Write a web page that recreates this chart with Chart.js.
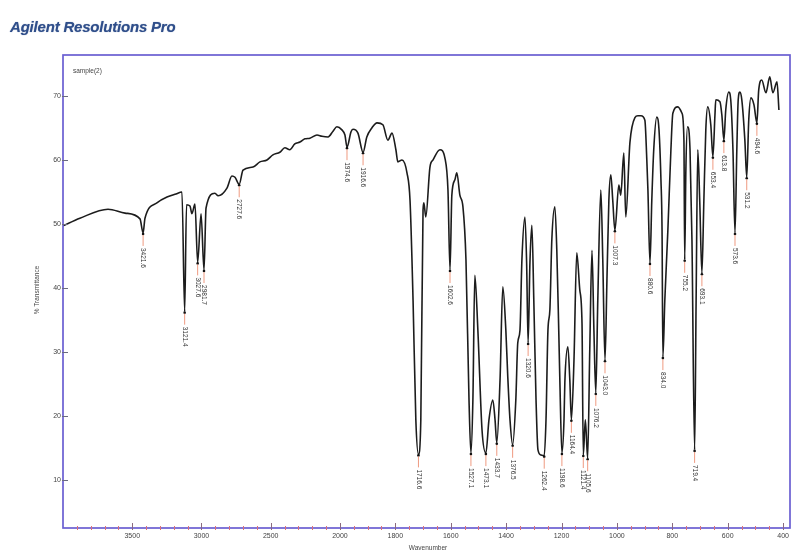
<!DOCTYPE html>
<html>
<head>
<meta charset="utf-8">
<title>Agilent Resolutions Pro</title>
<script src="https://cdn.jsdelivr.net/npm/chart.js@4/dist/chart.umd.min.js"></script>
<style>
  html, body { margin: 0; padding: 0; background: #ffffff; }
  #wrap { position: relative; width: 793px; height: 554px; overflow: hidden; }
  #spectrum { position: absolute; left: 0; top: 0; }
  #title {
    position: absolute; left: 10px; top: 18px; margin: 0;
    font: italic bold 15px "Liberation Sans", Arial, sans-serif;
    color: #2f4e8a; letter-spacing: -0.2px;
    text-shadow: 0 0 1px rgba(47, 78, 138, 0.6);
  }
</style>
</head>
<body>
<div id="wrap">
  <canvas id="spectrum" width="793" height="554"></canvas>
  <h1 id="title">Agilent Resolutions Pro</h1>
</div>
<script>
// IR spectrum, sample(2): wavenumber (cm-1) and % transmittance
const wavenumbers = [
  4000, 3878, 3675, 3552, 3444, 3421.6, 3408, 3322, 3249, 3184, 3141, 3121.4, 3108, 3083, 3069, 3047,
  3027.6, 3003, 2981.7, 2967, 2903, 2880, 2816, 2780, 2758, 2727.6, 2700, 2628, 2578, 2527, 2484, 2434,
  2398, 2362, 2326, 2289, 2253, 2217, 2166, 2130, 2086, 2050, 2022, 1993, 1982, 1974.6, 1960, 1953,
  1935, 1916.6, 1903, 1885, 1866, 1845, 1827, 1812, 1798, 1791, 1776, 1758, 1747, 1736, 1726, 1716.6,
  1708, 1700, 1697, 1690, 1675, 1664, 1639, 1621, 1610, 1602.6, 1596, 1585, 1578, 1567, 1556, 1545,
  1534, 1527.1, 1520, 1513, 1502, 1487, 1473.1, 1462, 1448, 1440, 1433.7, 1422, 1412, 1401, 1394, 1386,
  1376.5, 1365, 1358, 1350, 1343, 1332, 1326, 1320.6, 1314, 1307, 1300, 1292, 1285, 1274, 1262.4, 1256,
  1249, 1242, 1235, 1224, 1217, 1210, 1206, 1198.6, 1191, 1188, 1177, 1170, 1164.4, 1155, 1145, 1134,
  1126, 1121.4, 1114, 1105.6, 1098, 1090, 1083, 1076.2, 1069, 1058, 1051, 1043.0, 1036, 1029, 1022, 1015,
  1007.3, 993, 986, 975, 968, 953, 935, 924, 913, 899, 892, 888, 880.6, 874, 867, 856,
  848, 841, 837, 834.0, 827, 816, 805, 798, 780, 765, 758, 755.2, 751, 745, 736, 729,
  719.4, 714, 708, 701, 693.1, 686, 679, 672, 661, 653.4, 646, 643, 628, 621, 613.8, 607,
  596, 589, 581, 573.6, 567, 562, 556, 549, 538, 531.2, 524, 516, 505, 494.6, 488, 477,
  462, 448, 437, 422, 415
];
const transmittance = [
  49.7, 50.9, 52.3, 51.7, 50.8, 48.6, 50.9, 53.3, 54.2, 54.7, 55.0, 36.3, 53.0, 52.8, 51.6, 53.1,
  44.0, 51.6, 42.8, 52.5, 54.8, 54.4, 55.6, 57.5, 57.3, 56.2, 58.4, 58.9, 59.7, 60.0, 60.8, 61.2,
  61.9, 61.6, 62.5, 62.8, 63.3, 63.4, 63.9, 63.7, 63.6, 64.5, 65.2, 64.7, 63.9, 62.0, 64.4, 64.8,
  64.2, 61.2, 63.6, 65.0, 65.8, 65.5, 63.1, 64.2, 61.6, 59.7, 60.0, 58.0, 53.7, 38.0, 19.4, 14.0,
  19.4, 52.2, 53.3, 51.1, 58.9, 60.0, 61.6, 60.3, 55.3, 42.8, 54.5, 56.9, 58.0, 54.5, 52.7, 44.4,
  22.5, 14.2, 22.5, 42.0, 33.4, 17.8, 14.2, 19.4, 22.5, 19.4, 15.8, 25.6, 40.2, 33.4, 26.1, 19.4,
  15.5, 22.5, 31.4, 33.4, 44.4, 51.1, 44.0, 31.4, 44.0, 49.8, 38.0, 22.5, 14.7, 13.9, 13.8, 19.4,
  33.4, 36.6, 47.5, 52.7, 45.9, 33.4, 25.6, 14.2, 19.4, 25.2, 30.8, 25.6, 19.4, 28.7, 45.5, 39.7,
  34.5, 13.9, 19.4, 13.4, 30.3, 45.9, 33.4, 23.6, 38.1, 55.3, 44.4, 28.7, 41.2, 53.7, 57.7, 53.7,
  49.0, 56.1, 54.5, 61.1, 51.1, 62.7, 66.6, 66.9, 66.9, 66.2, 60.0, 55.3, 43.9, 53.7, 61.6, 66.7,
  64.7, 56.9, 49.0, 29.2, 38.1, 49.0, 61.6, 67.3, 68.3, 67.3, 63.1, 44.4, 58.4, 65.2, 61.6, 47.5,
  14.7, 38.1, 61.6, 53.7, 42.3, 53.7, 64.7, 68.3, 65.5, 60.5, 67.0, 69.4, 69.1, 67.0, 63.1, 67.8,
  70.6, 69.4, 61.6, 48.6, 61.6, 69.4, 70.6, 69.4, 63.1, 57.3, 66.2, 69.7, 68.6, 65.8, 70.9, 72.5,
  70.5, 73.0, 70.5, 72.2, 67.8
];
// Picked peaks (cm-1)
const peakWavenumbers = [
  3421.6, 3121.4, 3027.6, 2981.7, 2727.6, 1974.6, 1916.6, 1716.6, 1602.6, 1527.1, 1473.1, 1433.7,
  1376.5, 1320.6, 1262.4, 1198.6, 1164.4, 1121.4, 1105.6, 1076.2, 1043.0, 1007.3, 880.6, 834.0,
  755.2, 719.4, 693.1, 653.4, 613.8, 573.6, 531.2, 494.6
];
// Axis ticks
const xMajorTicks = [3500, 3000, 2500, 2000, 1800, 1600, 1400, 1200, 1000, 800, 600, 400];
const yTicks = [10, 20, 30, 40, 50, 60, 70];

// Wavenumber axis is compressed 2x above 2000 cm-1
function toAxis(wn) { return wn >= 2000 ? (4000 - wn) / 2 : 1000 + (2000 - wn); }
function fromAxis(t) { return t <= 1000 ? 4000 - 2 * t : 2000 - (t - 1000); }

const xMinorTicks = [];
for (let w = 3900; w > 2000; w -= 100) if (!xMajorTicks.includes(w)) xMinorTicks.push(w);
for (let w = 1950; w > 400; w -= 50) if (!xMajorTicks.includes(w)) xMinorTicks.push(w);

const points = wavenumbers.map((wn, i) => ({ x: toAxis(wn), y: transmittance[i] }));

const FRAME = '#6a5fd2';
const FONT = '"Liberation Sans", Arial, sans-serif';

const decorations = {
  id: 'decorations',
  afterDraw(chart) {
    const ctx = chart.ctx;
    const a = chart.chartArea;
    const xs = chart.scales.x, ys = chart.scales.y;
    ctx.save();
    // frame
    ctx.strokeStyle = FRAME;
    ctx.lineWidth = 1.7;
    ctx.strokeRect(a.left, a.top, a.right - a.left, a.bottom - a.top);
    // x tick marks
    ctx.lineWidth = 1;
    ctx.strokeStyle = '#d9707a';
    xMinorTicks.forEach(w => {
      const px = Math.round(xs.getPixelForValue(toAxis(w))) + 0.5;
      ctx.beginPath(); ctx.moveTo(px, a.bottom - 2); ctx.lineTo(px, a.bottom + 2); ctx.stroke();
    });
    ctx.strokeStyle = '#8a6a80';
    xMajorTicks.forEach(w => {
      const px = Math.round(xs.getPixelForValue(toAxis(w))) + 0.5;
      ctx.beginPath(); ctx.moveTo(px, a.bottom - 5); ctx.lineTo(px, a.bottom + 2); ctx.stroke();
    });
    // y tick marks
    ctx.strokeStyle = '#6a6a80';
    yTicks.forEach(v => {
      const py = Math.round(ys.getPixelForValue(v)) + 0.5;
      ctx.beginPath(); ctx.moveTo(a.left - 1, py); ctx.lineTo(a.left + 5, py); ctx.stroke();
    });
    // peak markers and labels
    ctx.font = '6.5px ' + FONT;
    ctx.textBaseline = 'middle';
    ctx.textAlign = 'left';
    peakWavenumbers.forEach(wn => {
      const i = wavenumbers.indexOf(wn);
      if (i < 0) return;
      const px = xs.getPixelForValue(toAxis(wn));
      const py = ys.getPixelForValue(transmittance[i]);
      ctx.fillStyle = '#111';
      ctx.beginPath(); ctx.arc(px, py + 1, 1.3, 0, Math.PI * 2); ctx.fill();
      ctx.strokeStyle = '#ef9a80';
      ctx.lineWidth = 1;
      ctx.beginPath(); ctx.moveTo(px, py + 2); ctx.lineTo(px, py + 13); ctx.stroke();
      ctx.save();
      ctx.translate(px, py + 15);
      ctx.rotate(Math.PI / 2);
      ctx.fillStyle = '#333';
      ctx.fillText(wn.toFixed(1), 0, 0);
      ctx.restore();
    });
    // text
    ctx.fillStyle = '#444';
    ctx.font = '6.5px ' + FONT;
    ctx.textAlign = 'left';
    ctx.fillText('sample(2)', a.left + 10, a.top + 16);
    ctx.textAlign = 'center';
    ctx.fillText('Wavenumber', 428, 548);
    ctx.save();
    ctx.translate(37, 290);
    ctx.rotate(-Math.PI / 2);
    ctx.fillText('% Transmittance', 0, 0);
    ctx.restore();
    ctx.restore();
  }
};

new Chart(document.getElementById('spectrum'), {
  type: 'line',
  data: {
    datasets: [{
      label: 'sample(2)',
      data: points,
      borderColor: '#1c1c1c',
      borderWidth: 1.6,
      pointRadius: 0,
      fill: false,
      cubicInterpolationMode: 'monotone'
    }]
  },
  options: {
    responsive: false,
    devicePixelRatio: 1,
    animation: false,
    layout: { padding: { left: 0, right: 3, top: 55, bottom: 0 } },
    plugins: { legend: { display: false }, tooltip: { enabled: false }, title: { display: false } },
    scales: {
      x: {
        type: 'linear',
        min: 0,
        max: 2625,
        afterFit(s) { s.height = 26; },
        afterBuildTicks(s) {
          s.ticks = xMajorTicks.map(w => ({ value: toAxis(w) }));
        },
        ticks: {
          autoSkip: false, maxRotation: 0, minRotation: 0, padding: 4,
          color: '#444', font: { size: 7, family: FONT },
          callback: (v) => String(Math.round(fromAxis(v)))
        },
        grid: { drawOnChartArea: false, drawTicks: false },
        border: { display: false }
      },
      y: {
        min: 2.5,
        max: 76.4,
        afterFit(s) { s.width = 63; },
        afterBuildTicks(s) { s.ticks = yTicks.map(v => ({ value: v })); },
        ticks: { padding: 2, color: '#444', font: { size: 7, family: FONT } },
        grid: { drawOnChartArea: false, drawTicks: false },
        border: { display: false }
      }
    }
  },
  plugins: [decorations]
});
</script>
</body>
</html>
